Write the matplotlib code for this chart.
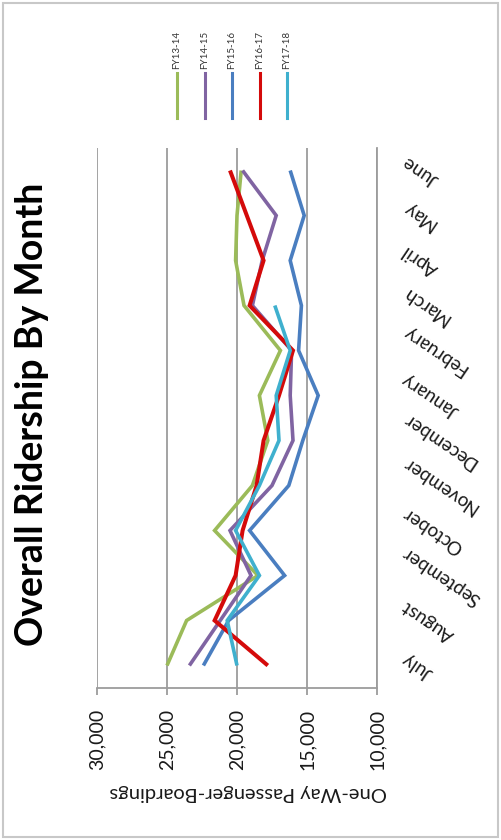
import matplotlib
matplotlib.use("Agg")
import matplotlib.pyplot as plt
from matplotlib.lines import Line2D
from matplotlib.patches import Rectangle

# Monthly one-way passenger boardings by fiscal year (July .. June)
months = ["July", "August", "September", "October", "November", "December",
          "January", "February", "March", "April", "May", "June"]
series_names = ["FY13-14", "FY14-15", "FY15-16", "FY16-17", "FY17-18"]
fy13_14 = [25000, 23600, 18500, 21600, 18900, 17800, 18400, 16900, 19500, 20100, 20000, 19700]
fy14_15 = [23400, 21200, 19000, 20500, 17500, 16000, 16200, 16100, 18900, 18200, 17200, 19600]
fy15_16 = [22400, 20600, 16600, 19100, 16300, 15300, 14200, 15600, 15400, 16200, 15200, 16200]
fy16_17 = [17800, 21600, 20100, 19600, 18600, 18100, 17000, 16000, 19100, 18100, 19300, 20500]
fy17_18 = [20000, 20700, 18400, 20100, 18400, 17000, 17200, 16200, 17300]
value_ticks = [30000, 25000, 20000, 15000, 10000]

series = [fy13_14, fy14_15, fy15_16, fy16_17, fy17_18]
colors = ["#9BBB59", "#8064A2", "#4A7EC0", "#D40A0A", "#3FB0CE"]
widths = [2.6, 2.6, 2.6, 2.9, 2.6]

plt.rcParams["font.family"] = ["Lato", "DejaVu Sans"]

W, H = 501, 840
fig = plt.figure(figsize=(W / 100, H / 100), dpi=100)
fig.patch.set_facecolor("white")


def fx(px):
    return px / W


def fy(py):
    return 1 - py / H


ax = fig.add_axes([fx(97), fy(688), fx(377) - fx(97), fy(148) - fy(688)])
grid_c = "#9C9C9C"

for vals, c, lw in zip(series, colors, widths):
    ax.plot(vals, range(len(vals)), color=c, lw=lw, solid_joinstyle="miter",
            solid_capstyle="butt", zorder=3)

ax.set_xlim(30000, 10000)
ax.set_ylim(-0.5, len(months) - 0.5)

ax.set_xticks(value_ticks)
ax.set_xticklabels([f"{v:,}" for v in value_ticks])
ax.tick_params(axis="x", direction="out", length=5, width=1.3, color=grid_c,
               labelrotation=90, pad=10, labelsize=14, labelcolor="#1a1a1a")
ax.grid(axis="x", color=grid_c, lw=1.3)
ax.set_axisbelow(True)

ax.yaxis.tick_right()
ax.set_yticks(range(len(months)))
ax.set_yticklabels(months, rotation=146, ha="left", va="center",
                   fontsize=13.5, color="#1a1a1a")
ax.tick_params(axis="y", length=0, pad=16)
for lbl in ax.get_yticklabels():
    lbl.set_y(lbl.get_position()[1])

for side in ("left", "top"):
    ax.spines[side].set_visible(False)
for side in ("bottom", "right"):
    ax.spines[side].set_color(grid_c)
    ax.spines[side].set_linewidth(1.3)

# Title and value-axis caption
fig.text(fx(32), fy(414), "Overall Ridership By Month", rotation=90,
         ha="center", va="center", fontsize=27, fontweight="bold", color="black")
fig.text(fx(248), fy(793), "One-Way Passenger-Boardings", rotation=180,
         ha="center", va="center", fontsize=14.5, color="#1a1a1a")

# Legend along the top edge
x0, dx = 177, 27.5
for i, (name, c) in enumerate(zip(series_names, colors)):
    x = fx(x0 + i * dx)
    fig.add_artist(Line2D([x, x], [fy(73), fy(118)], color=c, lw=2.2,
                          transform=fig.transFigure))
    fig.text(x, fy(69), name, rotation=90, ha="center", va="bottom",
             fontsize=7, color="#333333")

# Chart-area frame
fig.add_artist(Rectangle((fx(3), fy(837)), fx(495), 834 / H, fill=False,
                         ec="#C8C8C8", lw=1.5, transform=fig.transFigure))

fig.savefig("out.png", dpi=100, facecolor="white")
